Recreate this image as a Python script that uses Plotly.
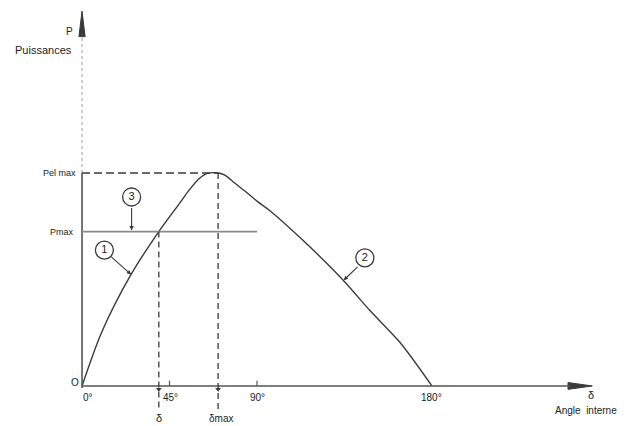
import plotly.graph_objects as go

# Puissance en fonction de l'angle interne (P normalisée : Pel max = 100)
delta_curve1 = [0, 10, 25, 39.5, 50, 55, 60, 64.5, 70]
p_curve1 = [0, 25, 52, 72.5, 85.5, 91.8, 97.2, 99.8, 100]
delta_curve2 = [70, 73.5, 78.5, 85, 90.5, 96.5, 113.5, 134, 148, 163.5, 180]
p_curve2 = [100, 99, 95.3, 90.6, 86.4, 82.4, 68.5, 50, 35.5, 20.5, 0]

p_el_max = 100
p_max = 72.5
delta_op = 39.5
delta_max = 70
pmax_line_end = 90

tick_vals = [0, 45, 90, 180]
tick_text = ["0°", "45°", "90°", "180°"]

INK = "#3a3a3a"
AXIS = "#555555"
FONT = "Liberation Sans"

fig = go.Figure()

# Courbes 1 et 2 tracées d'un seul tenant pour un sommet sans cassure
curve_x = delta_curve1 + delta_curve2[1:]
curve_y = p_curve1 + p_curve2[1:]
fig.add_trace(go.Scatter(x=curve_x, y=curve_y, mode="lines",
                         line=dict(color=INK, width=1.4, shape="spline", smoothing=0.8),
                         hoverinfo="skip"))

shapes = []
# Axe des puissances : plein jusqu'à Pel max, pointillé au-dessus
shapes.append(dict(type="line", xref="x", yref="y", x0=0, x1=0, y0=-1, y1=p_el_max,
                   line=dict(color=AXIS, width=1.6)))
shapes.append(dict(type="line", xref="x", yref="y", x0=0, x1=0, y0=p_el_max, y1=165,
                   line=dict(color="#9a9a9a", width=1, dash="dot")))
# Axe des angles
shapes.append(dict(type="line", xref="x", yref="y", x0=0, x1=251, y0=0, y1=0,
                   line=dict(color=AXIS, width=1.6)))
# Graduations
for tv in tick_vals[1:3]:
    shapes.append(dict(type="line", xref="x", yref="y", x0=tv, x1=tv, y0=0, y1=2.5,
                       line=dict(color=AXIS, width=1.2)))
# Pel max (tirets)
shapes.append(dict(type="line", xref="x", yref="y", x0=0, x1=delta_max, y0=p_el_max, y1=p_el_max,
                   line=dict(color=INK, width=1.4, dash="8px,4px")))
# Droite 3 : Pmax
shapes.append(dict(type="line", xref="x", yref="y", x0=0, x1=pmax_line_end, y0=p_max, y1=p_max,
                   line=dict(color="#8a8a8a", width=1.8)))
# Verticales en tirets δ et δmax
shapes.append(dict(type="line", xref="x", yref="y", x0=delta_op, x1=delta_op, y0=p_max, y1=-12,
                   line=dict(color=INK, width=1.3, dash="6px,4px")))
shapes.append(dict(type="line", xref="x", yref="y", x0=delta_max, x1=delta_max, y0=p_el_max, y1=-12,
                   line=dict(color=INK, width=1.3, dash="6px,4px")))
fig.update_layout(shapes=shapes)

# Flèches des axes
fig.add_trace(go.Scatter(x=[0, -1.6, 1.6, 0], y=[176, 164, 164, 176], mode="lines",
                         fill="toself", fillcolor=INK, line=dict(color=INK, width=1),
                         hoverinfo="skip"))
fig.add_trace(go.Scatter(x=[262.5, 250, 250, 262.5], y=[0, 1.6, -1.6, 0], mode="lines",
                         fill="toself", fillcolor=INK, line=dict(color=INK, width=1),
                         hoverinfo="skip"))
# Petites pointes sur l'axe au pied des verticales
fig.add_trace(go.Scatter(x=[delta_op, delta_max], y=[-1.5, -1.5], mode="markers",
                         marker=dict(symbol="triangle-down", size=5, color=INK),
                         hoverinfo="skip"))

# Repères cerclés 1, 2, 3
circle_x = [11.5, 145.5, 25.5]
circle_y = [63.8, 60.1, 88.7]
circle_lbl = ["1", "2", "3"]
fig.add_trace(go.Scatter(x=circle_x, y=circle_y, mode="markers+text",
                         marker=dict(symbol="circle", size=18, color="white",
                                     line=dict(color=INK, width=1.3)),
                         text=circle_lbl, textposition="middle center",
                         textfont=dict(family=FONT, size=11, color="#222"),
                         hoverinfo="skip"))

annotations = []
def arrow(x, y, ax, ay):
    annotations.append(dict(x=x, y=y, ax=ax, ay=ay, xref="x", yref="y", axref="x", ayref="y",
                            text="", showarrow=True, arrowhead=2, arrowsize=0.8,
                            arrowwidth=1.1, arrowcolor=INK))

arrow(25.5, p_max + 0.5, 25.5, 84.2)      # repère 3 -> droite Pmax
arrow(25.3, 52.3, 14.3, 61.2)             # repère 1 -> courbe 1
arrow(134.6, 49.6, 142.5, 56.6)           # repère 2 -> courbe 2

def label(x, y, text, xanchor="center", yanchor="middle", size=10):
    annotations.append(dict(x=x, y=y, xref="x", yref="y", text=text, showarrow=False,
                            xanchor=xanchor, yanchor=yanchor,
                            font=dict(family=FONT, size=size, color="#222")))

label(-4.3, 157.7, "Puissances", xanchor="right", size=11)
label(-6.2, 166.5, "P", xanchor="center", size=10)
label(-2.2, p_el_max, "Pel max", xanchor="right", size=9)
label(-3.2, p_max, "Pmax", xanchor="right", size=9)
label(-3.8, 1.4, "O", size=10)
tick_x = [3, 45.6, 90.2, 180]
for tx, tt in zip(tick_x, tick_text):
    label(tx, -5.4, tt, size=10)
label(delta_op, -15.2, "δ", size=11)
label(delta_max + 1.5, -15.2, "δmax", size=10)
label(261.7, -4.2, "δ", size=11)
label(242.4, -11.7, "Angle  interne", xanchor="left", size=10)
fig.update_layout(annotations=annotations)

fig.update_layout(
    width=630, height=426, autosize=False,
    margin=dict(l=0, r=0, t=0, b=0),
    paper_bgcolor="white", plot_bgcolor="white",
    showlegend=False,
    xaxis=dict(range=[-42.2, 281.9], visible=False, fixedrange=True),
    yaxis=dict(range=[-18.8, 181.2], visible=False, fixedrange=True),
)

fig.write_html("out.html")
